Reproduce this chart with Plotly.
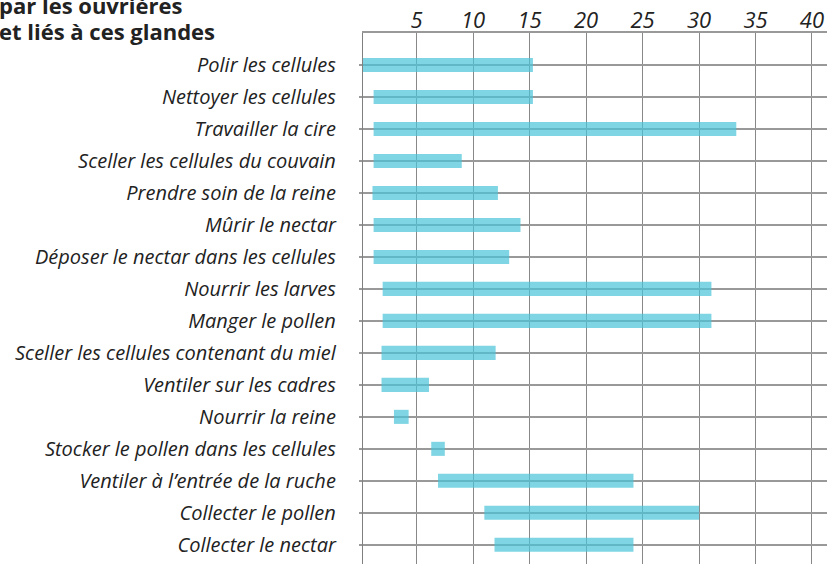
import plotly.graph_objects as go

tasks = [
    "Polir les cellules",
    "Nettoyer les cellules",
    "Travailler la cire",
    "Sceller les cellules du couvain",
    "Prendre soin de la reine",
    "Mûrir le nectar",
    "Déposer le nectar dans les cellules",
    "Nourrir les larves",
    "Manger le pollen",
    "Sceller les cellules contenant du miel",
    "Ventiler sur les cadres",
    "Nourrir la reine",
    "Stocker le pollen dans les cellules",
    "Ventiler à l\u2019entrée de la ruche",
    "Collecter le pollen",
    "Collecter le nectar",
]
start_day = [0.2, 1.2, 1.2, 1.2, 1.1, 1.2, 1.2, 2.0, 2.0, 1.9, 1.9, 3.0, 6.3, 6.9, 11.0, 11.9]
end_day = [15.3, 15.3, 33.3, 9.0, 12.2, 14.2, 13.2, 31.1, 31.1, 12.0, 6.1, 4.3, 7.5, 24.2, 30.0, 24.2]
tick_days = [5, 10, 15, 20, 25, 30, 35, 40]
title_lines = ["par les ouvrières", "et liés à ces glandes"]

durations = [e - s for s, e in zip(start_day, end_day)]

FONT = "Open Sans"
TOP = 33
PLOT_H = 564 - TOP

fig = go.Figure()
fig.add_trace(go.Bar(
    y=tasks,
    x=durations,
    base=start_day,
    orientation="h",
    width=0.44,
    marker=dict(color="rgb(74,196,216)", line=dict(width=0)),
    opacity=0.7,
    hoverinfo="skip",
))

title_centers_px = [5, 31]
annotations = []
for line, cy in zip(title_lines, title_centers_px):
    annotations.append(dict(
        text=line,
        xref="paper", yref="paper",
        x=0, y=1 + (TOP - cy) / PLOT_H,
        xshift=-366,
        xanchor="left", yanchor="middle",
        align="left",
        showarrow=False,
        font=dict(size=22, family=FONT, weight="bold", color="#222222"),
    ))

fig.update_layout(
    width=827,
    height=564,
    margin=dict(l=363, r=0, t=TOP, b=0, autoexpand=False),
    paper_bgcolor="white",
    plot_bgcolor="white",
    showlegend=False,
    font=dict(family=FONT, color="#222222"),
    xaxis=dict(
        side="top",
        range=[0.26, 41.33],
        tickvals=tick_days,
        ticktext=[str(v) for v in tick_days],
        tickfont=dict(size=22, family=FONT, style="italic", color="#222222"),
        ticklabelstandoff=-6,
        showgrid=True,
        gridcolor="#888888",
        gridwidth=1.3,
        showline=True,
        linecolor="#999999",
        linewidth=1.5,
        ticks="",
        zeroline=False,
        automargin=False,
        fixedrange=True,
    ),
    yaxis=dict(
        type="category",
        categoryorder="array",
        categoryarray=tasks,
        range=[15.6, -1.0],
        tickfont=dict(size=20, family=FONT, style="italic", color="#222222"),
        showgrid=True,
        gridcolor="#999999",
        gridwidth=1.5,
        showline=True,
        linecolor="#808080",
        linewidth=1.3,
        ticks="outside",
        ticklen=3,
        tickwidth=1.5,
        tickcolor="#999999",
        ticklabelstandoff=19,
        zeroline=False,
        automargin=False,
        fixedrange=True,
    ),
    annotations=annotations,
)

fig.write_html(
    "out.html",
    config={"displayModeBar": False},
    post_script="document.body.style.margin='0px';",
)
